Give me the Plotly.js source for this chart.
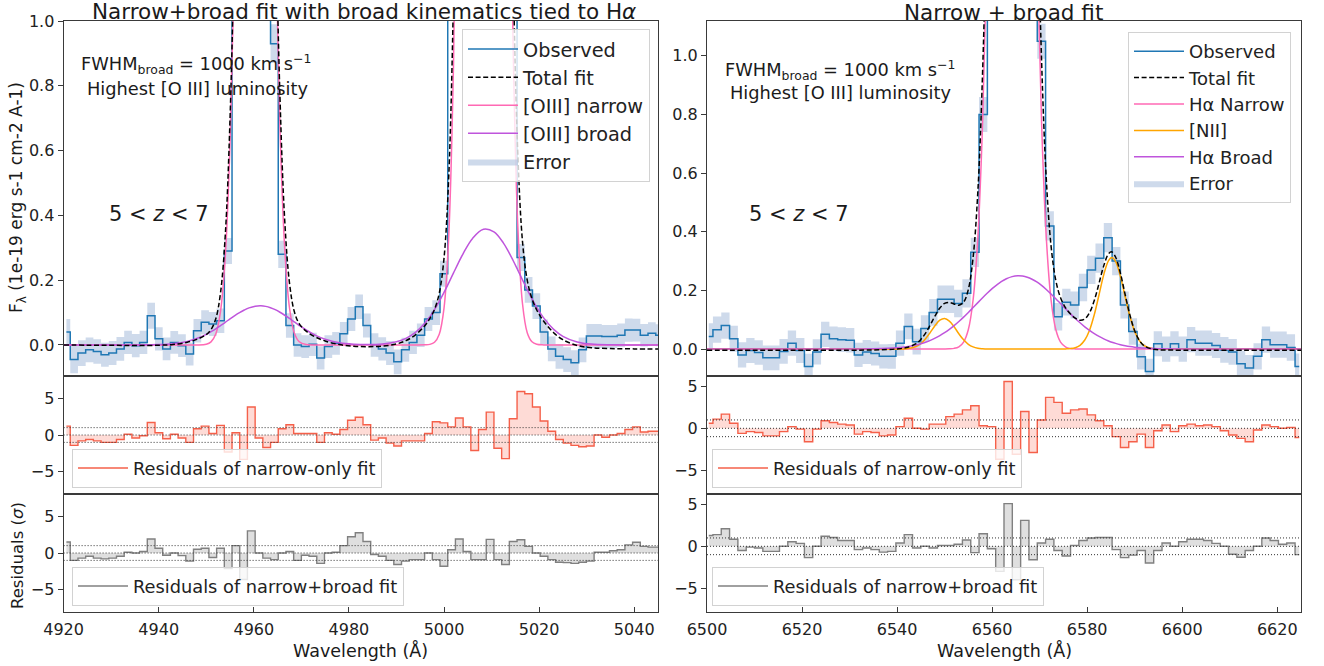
<!DOCTYPE html>
<html><head><meta charset="utf-8">
<script src="https://cdn.plot.ly/plotly-3.0.1.min.js"></script>
<style>html,body{margin:0;padding:0;background:#fff;}#chart{width:1324px;height:666px;}</style>
</head><body><div id="chart"></div>
<script>
// ---------------- LEFT PANEL DATA ([OIII]) ----------------
const lamL = [4920.59,4922.21,4923.83,4925.45,4927.07,4928.69,4930.31,4931.93,4933.55,4935.17,
4936.79,4938.41,4940.03,4941.65,4943.27,4944.89,4946.51,4948.13,4949.75,4951.37,
4952.99,4954.61,4956.23,4957.85,4959.47,4961.09,4962.71,4964.33,4965.95,4967.57,
4969.19,4970.81,4972.43,4974.05,4975.67,4977.29,4978.91,4980.53,4982.15,4983.77,
4985.39,4987.01,4988.63,4990.25,4991.87,4993.49,4995.11,4996.73,4998.35,4999.97,
5001.59,5003.21,5004.83,5006.45,5008.07,5009.69,5011.31,5012.93,5014.55,5016.17,
5017.79,5019.41,5021.03,5022.65,5024.27,5025.89,5027.51,5029.13,5030.75,5032.37,
5033.99,5035.61,5037.23,5038.85,5040.47,5042.09,5043.71,5045.33];
const obsL = [0.040,-0.045,-0.025,-0.015,-0.020,-0.030,-0.025,-0.012,0.008,-0.002,
0.008,0.090,0.019,-0.012,0.008,-0.002,-0.028,0.044,0.070,0.065,
0.075,0.290,1.70,3.40,4.20,4.00,2.60,0.930,0.280,0.060,
0.000,-0.005,0.002,-0.040,-0.005,0.005,0.035,0.080,0.118,0.060,
0.000,-0.012,-0.025,-0.052,-0.015,0.008,0.030,0.080,0.100,0.220,
1.30,4.00,8.50,12.0,13.5,11.0,6.50,3.00,1.20,0.270,
0.170,0.120,0.040,-0.012,-0.035,-0.045,-0.055,-0.015,0.028,0.028,
0.026,0.026,0.030,0.046,0.046,0.030,0.036,0.030];
const errL = [0.040,0.042,0.040,0.038,0.038,0.037,0.037,0.037,0.036,0.036,
0.036,0.040,0.036,0.035,0.035,0.035,0.035,0.036,0.037,0.037,
0.038,0.040,0.060,0.090,0.100,0.100,0.080,0.060,0.042,0.038,
0.036,0.035,0.036,0.036,0.035,0.035,0.036,0.037,0.038,0.037,
0.036,0.036,0.037,0.038,0.037,0.036,0.036,0.037,0.038,0.040,
0.070,0.120,0.180,0.200,0.200,0.170,0.120,0.080,0.050,0.042,
0.040,0.040,0.039,0.038,0.038,0.038,0.039,0.038,0.037,0.037,
0.036,0.036,0.036,0.036,0.035,0.035,0.034,0.034];
const resNarrowL = [1.2,-1.4,-0.8,-0.6,-0.8,-1.0,-1.0,-0.6,0.1,-0.4,
-0.1,1.7,0.3,-0.5,0.1,-0.4,-1.0,0.85,1.2,0.2,
1.3,-2.3,0.3,-3.3,3.8,-0.4,-1.7,-1.0,0.85,1.4,
0.2,0.2,0.2,-1.0,0.3,0.1,0.75,2.0,2.4,1.4,
-0.7,-0.4,-1.1,-1.5,-0.8,-0.8,-0.8,0.2,1.8,1.65,
1.1,2.3,1.1,-2.1,0.75,3.1,-1.8,-3.2,2.2,5.9,
5.6,3.8,1.9,0.5,-0.6,-1.1,-1.4,-1.6,-1.5,0.0,
-0.3,0.0,0.2,0.75,1.1,0.4,0.5,0.5];
const resBroadL = [1.5,-1.0,-0.7,-0.45,-0.7,-0.8,-0.7,-0.45,0.1,0.0,
0.2,1.9,0.65,-0.3,0.0,-0.35,-1.1,0.5,0.65,-0.6,
0.65,-2.1,1.0,-3.6,3.0,0.0,-0.7,-0.9,0.0,0.2,
-1.0,-0.3,-0.45,-1.4,0.0,0.1,1.0,2.2,2.75,1.55,
-0.2,-0.45,-1.0,-1.55,-1.1,-0.9,-0.9,0.0,-0.9,-1.8,
0.45,1.9,0.2,-0.9,-0.9,1.85,-0.9,-1.55,1.55,1.8,
0.9,0.0,-0.45,-0.9,-1.25,-1.3,-1.4,-1.25,-1.1,0.1,
0.1,0.3,0.45,1.1,1.45,0.9,0.8,0.8];
// model curves, sampled
const fitLamL = [4920,4925,4930,4935,4940,4943,4946,4948,
4950,4951,4952,4953,4954,4955,4956,4957,4958,4959,
4960.3,4961.5,4962.5,4963.5,4964.5,4965.5,4966.5,4967.5,4968.5,4969.5,
4971,4973,4975,4978,4981,4984,4987,4990,4992,4994,
4996,4997,4998,4999,5000,5001,5002,5003,5004,5006,
5008.3,5010.5,5012.5,5013.5,5014.5,5015.5,5016.5,5017.5,5018.5,5019.5,
5021,5023,5025,5028,5031,5035,5040,5045];
const oiiiNarrow = [0,0,0,0,0,0,0,0.0001,
0.0024,0.0097,0.034,0.104,0.273,0.623,1.23,2.12,3.16,4.08,
4.6,4.15,3.26,2.22,1.31,0.67,0.298,0.115,0.038,0.011,
0.0013,0,0,0,0,0,0,0,0,0,
0.0004,0.0019,0.0085,0.0335,0.114,0.338,0.87,1.95,3.81,9.55,
13.8,9.85,4.04,2.10,0.95,0.373,0.128,0.038,0.0098,0.0022,
0.0003,0,0,0,0,0,0,0];
const oiiiBroad = [0,0,0,0.0001,0.0012,0.004,0.0111,0.0199,
0.0329,0.041,0.050,0.060,0.070,0.0807,0.0908,0.100,0.108,0.1146,
0.1198,0.121,0.1192,0.1152,0.109,0.101,0.0918,0.0818,0.0713,0.0609,
0.0463,0.0298,0.0178,0.007,0.0025,0.0013,0.003,0.0101,0.0206,0.0389,
0.0678,0.0869,0.1091,0.1344,0.1622,0.1918,0.2224,0.2528,0.2816,0.329,
0.357,0.349,0.3145,0.2897,0.2616,0.2316,0.2009,0.1709,0.1424,0.1164,
0.0828,0.049,0.0268,0.0093,0.0027,0.0004,0,0];
const oiiiTotal = [0.0,-0.0005,-0.001,-0.0014,-0.0008,0.0017,0.0085,0.0172,
0.0323,0.0476,0.0808,0.161,0.3393,0.699,1.315,2.22,3.26,4.19,
4.72,4.27,3.38,2.33,1.41,0.767,0.385,0.192,0.104,0.067,
0.0427,0.0245,0.0123,0.0012,-0.0036,-0.0051,-0.0037,0.0031,0.0134,0.0315,
0.0602,0.0811,0.1098,0.160,0.268,0.522,1.084,2.19,4.08,9.87,
14.15,10.19,4.35,2.38,1.20,0.599,0.32,0.20,0.143,0.108,
0.0727,0.0387,0.0163,-0.0015,-0.0084,-0.0111,-0.012,-0.0125];

// ---------------- RIGHT PANEL DATA (Halpha) ----------------
const lamR = [6500.375,6502.125,6503.875,6505.625,6507.375,6509.125,6510.875,6512.625,6514.375,6516.125,
6517.875,6519.625,6521.375,6523.125,6524.875,6526.625,6528.375,6530.125,6531.875,6533.625,
6535.375,6537.125,6538.875,6540.625,6542.375,6544.125,6545.875,6547.625,6549.375,6551.125,
6552.875,6554.625,6556.375,6558.125,6559.875,6561.625,6563.375,6565.125,6566.875,6568.625,
6570.375,6572.125,6573.875,6575.625,6577.375,6579.125,6580.875,6582.625,6584.375,6586.125,
6587.875,6589.625,6591.375,6593.125,6594.875,6596.625,6598.375,6600.125,6601.875,6603.625,
6605.375,6607.125,6608.875,6610.625,6612.375,6614.125,6615.875,6617.625,6619.375,6621.125,
6622.875,6624.625];
const obsR = [0.043,0.066,0.080,0.035,-0.020,-0.005,-0.012,-0.030,-0.030,-0.008,
0.020,-0.005,-0.060,-0.010,0.050,0.035,0.032,0.030,-0.020,-0.010,
-0.015,-0.025,-0.025,0.020,0.077,0.025,0.070,0.125,0.170,0.170,
0.155,0.190,0.330,0.800,2.00,4.00,5.60,5.40,3.80,2.00,
1.05,0.420,0.110,0.160,0.150,0.210,0.270,0.310,0.380,0.300,
0.150,0.060,-0.026,-0.077,0.018,0.000,0.018,0.000,0.032,0.020,
0.020,0.012,-0.003,-0.010,-0.050,-0.065,-0.025,0.032,0.015,0.015,
0.005,-0.060];
const errR = [0.045,0.045,0.045,0.044,0.043,0.043,0.042,0.042,0.042,0.042,
0.043,0.043,0.044,0.043,0.043,0.042,0.042,0.042,0.041,0.041,
0.041,0.041,0.042,0.043,0.044,0.044,0.045,0.046,0.047,0.047,
0.047,0.048,0.050,0.060,0.100,0.150,0.200,0.200,0.150,0.100,
0.060,0.050,0.047,0.046,0.046,0.047,0.048,0.050,0.050,0.048,
0.046,0.045,0.044,0.044,0.043,0.043,0.043,0.043,0.043,0.043,
0.043,0.043,0.044,0.044,0.044,0.045,0.045,0.045,0.045,0.045,
0.045,0.045];
const resNarrowR = [0.6,1.1,1.7,0.6,-0.6,-0.4,-0.5,-0.9,-0.9,-0.4,
0.2,-0.1,-1.6,-0.1,0.9,0.7,0.5,0.4,-0.7,-0.4,
-0.5,-0.9,-0.8,0.2,1.2,0.0,-0.1,0.5,0.5,1.4,
1.7,2.2,2.7,0.3,0.2,-3.7,5.6,-3.1,2.0,-2.9,
1.0,3.7,3.1,1.8,2.2,2.3,1.6,0.9,0.3,-1.0,
-2.3,-1.6,-0.7,-2.3,-0.3,0.4,-0.4,0.3,0.5,0.3,
0.4,0.2,-0.3,-0.8,-1.2,-1.6,-0.2,0.4,0.2,0.0,
0.1,-1.1];
const resBroadR = [1.3,1.4,2.1,0.85,-0.5,-0.1,-0.2,-0.6,-0.6,0.0,
0.55,0.35,-1.35,0.0,1.2,1.05,0.7,0.7,-0.4,-0.2,
-0.4,-0.7,-0.6,0.4,1.4,-0.2,0.0,-0.2,0.1,0.1,
0.25,0.75,-0.75,1.5,-0.3,-3.0,5.1,-4.0,3.1,-1.6,
0.4,0.85,-0.5,-1.15,0.1,0.7,1.0,1.05,1.05,-0.4,
-1.35,-1.05,-0.5,-2.0,-0.5,0.4,0.0,0.55,0.85,0.85,
0.7,0.35,0.0,-0.95,-1.3,-0.5,0.0,1.0,0.7,0.25,
0.4,-1.0];
const fitLamR = [6500,6510,6520,6530,6535,6538,6540,6542,6544,6545,
6546,6547,6548,6549,6550,6551,6552,6553,6554,6555,
6556,6557,6558,6559,6560,6561,6562,6563,6564.2,6565.4,
6566.4,6567.4,6568.4,6569.4,6570.4,6571.4,6572.4,6573.4,6574.4,6575.5,
6576.5,6577.5,6578.5,6579.5,6580.5,6581.5,6582.5,6583.5,6584.5,6585.2,
6586,6587,6588,6589,6590,6591,6592,6594,6596,6600,
6610,6625];
const haNarrow = [0,0,0,0,0,0,0,0,0,0,
0,0,0,0,0.0001,0.0006,0.0022,0.0076,0.0238,0.0666,
0.168,0.381,0.776,1.42,2.35,3.48,4.64,5.56,6.0,5.56,
4.64,3.48,2.35,1.42,0.776,0.381,0.168,0.0666,0.0238,0.0067,
0.0019,0.0005,0,0,0,0,0,0,0,0,
0,0,0,0,0,0,0,0,0,0,
0,0];
const niiLines = [0,0,0,0,0,0,0.0001,0.0012,0.0086,0.0187,
0.0351,0.057,0.0804,0.0982,0.104,0.0954,0.0759,0.052,0.0313,0.0162,
0.0073,0.0028,0.001,0,0,0,0,0,0,0,
0,0,0,0,0,0,0,0,0,0.0004,
0.0014,0.0045,0.0126,0.0307,0.0644,0.1173,0.1853,0.2539,0.3013,0.312,
0.298,0.2476,0.1782,0.1113,0.0602,0.0282,0.0115,0.0012,0.0001,0,
0,0];
const haBroad = [0,0,0,0.0001,0.0008,0.0023,0.0044,0.008,0.014,0.0182,
0.0233,0.0295,0.037,0.0456,0.0557,0.067,0.0798,0.0938,0.1089,0.1249,
0.1415,0.1583,0.175,0.191,0.206,0.219,0.2308,0.2398,0.247,0.25,
0.249,0.245,0.238,0.2287,0.2169,0.2031,0.1879,0.1717,0.155,0.1365,
0.12,0.1042,0.0895,0.0758,0.0635,0.0525,0.0429,0.0346,0.0276,0.0233,
0.0192,0.0148,0.0113,0.0085,0.0063,0.0047,0.0034,0.0017,0.0008,0.0001,
0,0];
const haTotal = [-0.004,-0.004,-0.004,-0.0039,-0.0032,-0.0017,0.0005,0.0052,0.0186,0.0329,
0.0544,0.0825,0.1134,0.1398,0.1558,0.159,0.1539,0.1494,0.16,0.2037,
0.3128,0.5381,0.948,1.607,2.552,3.695,4.867,5.796,6.243,5.806,
4.885,3.721,2.584,1.645,0.989,0.580,0.352,0.234,0.1748,0.1396,
0.1193,0.1052,0.0981,0.1025,0.1239,0.1658,0.2242,0.2845,0.3249,0.3313,
0.3132,0.2584,0.1855,0.1158,0.0625,0.0289,0.0109,-0.0011,-0.0031,-0.0039,
-0.004,-0.004];

// tick labels / reference levels
const fluxTicks = [0, 0.2, 0.4, 0.6, 0.8, 1.0];
const fluxTickText = ['0.0','0.2','0.4','0.6','0.8','1.0'];
const resTicks = [-5, 0, 5];
const resTickText = ['\u22125','0','5'];
const lamTicksL = [4920,4940,4960,4980,5000,5020,5040];
const lamTicksR = [6500,6520,6540,6560,6580,6600,6620];
const sigmaLevels = [-1, 0, 1];

// ---------------- STYLE ----------------
const FONT = 'DejaVu Sans, Verdana, sans-serif';
const W = 1324, H = 666;
const fx = p => p / W, fy = p => 1 - p / H;
const C_OBS = '#1f77b4', C_ERR = 'rgba(176,196,222,0.62)', C_NAR = '#ff69b4',
      C_BRD = '#bf55dc', C_NII = '#ffa500', C_RED = '#f5604a', C_REDF = 'rgba(250,110,90,0.25)',
      C_GRY = '#808080', C_GRYF = 'rgba(150,150,150,0.3)';
const DASH = '5px,2.6px';

function bandTraces(x, y, e, xa, ya, leg) {
  const lo = y.map((v, i) => v - e[i]);
  const hi = y.map((v, i) => v + e[i]);
  return [
    {x: x, y: lo, xaxis: xa, yaxis: ya, mode: 'lines', line: {width: 0, shape: 'hvh'},
     showlegend: false, hoverinfo: 'skip'},
    {x: x, y: hi, xaxis: xa, yaxis: ya, mode: 'lines', line: {width: 0, shape: 'hvh'},
     fill: 'tonexty', fillcolor: C_ERR, name: 'Error', legend: leg, legendrank: 10, hoverinfo: 'skip'}
  ];
}
function lineTrace(x, y, xa, ya, color, name, leg, rank, opts) {
  opts = opts || {};
  return {x: x, y: y, xaxis: xa, yaxis: ya, mode: 'lines', name: name, legend: leg, legendrank: rank,
    showlegend: !!name, hoverinfo: 'skip',
    line: Object.assign({color: color, width: 1.5}, opts)};
}
function residTraces(x, r, xa, ya, col, fcol, name, leg) {
  return [
    {x: x, y: r, xaxis: xa, yaxis: ya, mode: 'lines', line: {width: 0, shape: 'hvh'},
     fill: 'tozeroy', fillcolor: fcol, showlegend: false, hoverinfo: 'skip'},
    {x: x, y: r, xaxis: xa, yaxis: ya, mode: 'lines', line: {color: col, width: 1.4, shape: 'hvh'},
     name: name, legend: leg, hoverinfo: 'skip'}
  ];
}

const traces = [].concat(
  bandTraces(lamL, obsL, errL, 'x', 'y', 'legend'),
  [lineTrace(lamL, obsL, 'x', 'y', C_OBS, 'Observed', 'legend', 1, {shape: 'hvh'}),
   lineTrace(fitLamL, oiiiNarrow, 'x', 'y', C_NAR, '[OIII] narrow', 'legend', 3, {shape: 'spline'}),
   lineTrace(fitLamL, oiiiBroad, 'x', 'y', C_BRD, '[OIII] broad', 'legend', 4, {shape: 'spline'}),
   lineTrace(fitLamL, oiiiTotal, 'x', 'y', '#000000', 'Total fit', 'legend', 2, {shape: 'spline', dash: DASH})],
  residTraces(lamL, resNarrowL, 'x2', 'y2', C_RED, C_REDF, 'Residuals of narrow-only fit', 'legend2'),
  residTraces(lamL, resBroadL, 'x3', 'y3', C_GRY, C_GRYF, 'Residuals of narrow+broad fit', 'legend3'),
  bandTraces(lamR, obsR, errR, 'x4', 'y4', 'legend4'),
  [lineTrace(lamR, obsR, 'x4', 'y4', C_OBS, 'Observed', 'legend4', 1, {shape: 'hvh'}),
   lineTrace(fitLamR, haNarrow, 'x4', 'y4', C_NAR, 'H\u03b1 Narrow', 'legend4', 3, {shape: 'spline'}),
   lineTrace(fitLamR, niiLines, 'x4', 'y4', C_NII, '[NII]', 'legend4', 4, {shape: 'spline'}),
   lineTrace(fitLamR, haBroad, 'x4', 'y4', C_BRD, 'H\u03b1 Broad', 'legend4', 5, {shape: 'spline'}),
   lineTrace(fitLamR, haTotal, 'x4', 'y4', '#000000', 'Total fit', 'legend4', 2, {shape: 'spline', dash: DASH})],
  residTraces(lamR, resNarrowR, 'x5', 'y5', C_RED, C_REDF, 'Residuals of narrow-only fit', 'legend5'),
  residTraces(lamR, resBroadR, 'x6', 'y6', C_GRY, C_GRYF, 'Residuals of narrow+broad fit', 'legend6')
);

const LX = [fx(63.6), fx(658)], RX = [fx(707), fx(1301)];
const YT = [fy(376), fy(21)], Y1 = [fy(494), fy(376)], Y2 = [fy(612), fy(494)];
const frame = {showline: true, mirror: true, linecolor: '#3a3a3a', linewidth: 1, showgrid: false, zeroline: false,
  tickfont: {family: FONT, size: 16, color: '#222'}, tickcolor: '#3a3a3a'};
function xax(dom, anchor, range, tickvals) {
  const a = Object.assign({}, frame, {domain: dom, anchor: anchor, range: range});
  if (tickvals) Object.assign(a, {tickvals: tickvals, ticks: 'inside', ticklen: 5, ticklabelstandoff: 3});
  else Object.assign(a, {showticklabels: false, ticks: ''});
  return a;
}
function yax(dom, anchor, range, tv, tt) {
  return Object.assign({}, frame, {domain: dom, anchor: anchor, range: range, tickvals: tv, ticktext: tt,
    ticks: 'outside', ticklen: 5});
}
const legBase = {bgcolor: 'rgba(255,255,255,0.8)', bordercolor: '#d2d2d2', borderwidth: 1, itemwidth: 50,
  traceorder: 'normal'};
const legFont = s => ({family: FONT, size: s, color: '#222'});

const shapes = [];
[['x2','y2'],['x3','y3'],['x5','y5'],['x6','y6']].forEach(([xa, ya]) => {
  sigmaLevels.forEach(lv => shapes.push({type: 'line', xref: xa + ' domain', yref: ya, x0: 0, x1: 1, y0: lv, y1: lv,
    line: {color: '#333', width: 1, dash: '1px,2px'}, layer: 'above'}));
});

const ann = (text, xp, yp, size, extra) => Object.assign({text: text, x: fx(xp), y: fy(yp), xref: 'paper', yref: 'paper',
  showarrow: false, xanchor: 'center', yanchor: 'middle', font: {family: FONT, size: size, color: '#1a1a1a'}}, extra || {});
const annotations = [
  ann('Narrow+broad fit with broad kinematics tied to H<i>\u03b1</i>', 364, 11, 21.5),
  ann('Narrow + broad fit', 1003, 13, 21.5),
  ann('FWHM<sub>broad</sub> = 1000 km s<sup>\u22121</sup>', 196, 64, 17.8),
  ann('Highest [O III] luminosity', 197, 88, 17.8),
  ann('FWHM<sub>broad</sub> = 1000 km s<sup>\u22121</sup>', 840, 70, 17.8),
  ann('Highest [O III] luminosity', 840, 92, 17.8),
  ann('5 &lt; <i>z</i> &lt; 7', 159, 214, 21),
  ann('5 &lt; <i>z</i> &lt; 7', 799, 214, 21),
  ann('Wavelength (\u00c5)', 361, 650, 17.5),
  ann('Wavelength (\u00c5)', 1004, 650, 17.5),
  ann('F<sub>\u03bb</sub> (1e-19 erg s-1 cm-2 A-1)', 17, 198, 17, {textangle: -90}),
  ann('Residuals (<i>\u03c3</i>)', 17, 556, 16.5, {textangle: -90})
];

const layout = {
  width: W, height: H, margin: {l: 0, r: 0, t: 0, b: 0, pad: 0},
  paper_bgcolor: '#ffffff', plot_bgcolor: '#ffffff', hovermode: false,
  font: {family: FONT, color: '#222'},
  xaxis: xax(LX, 'y', [4920, 5045]),
  yaxis: yax(YT, 'x', [-0.0957, 1.0], fluxTicks, fluxTickText),
  xaxis2: xax(LX, 'y2', [4920, 5045]),
  yaxis2: yax(Y1, 'x2', [-8, 8], resTicks, resTickText),
  xaxis3: xax(LX, 'y3', [4920, 5045], lamTicksL),
  yaxis3: yax(Y2, 'x3', [-8, 8], resTicks, resTickText),
  xaxis4: xax(RX, 'y4', [6500, 6625]),
  yaxis4: yax(YT, 'x4', [-0.092, 1.119], fluxTicks, fluxTickText),
  xaxis5: xax(RX, 'y5', [6500, 6625]),
  yaxis5: yax(Y1, 'x5', [-7.85, 6.25], resTicks, resTickText),
  xaxis6: xax(RX, 'y6', [6500, 6625], lamTicksR),
  yaxis6: yax(Y2, 'x6', [-7.85, 6.25], resTicks, resTickText),
  legend: Object.assign({}, legBase, {x: fx(650), xanchor: 'right', y: fy(29), yanchor: 'top', font: legFont(19.3)}),
  legend2: Object.assign({}, legBase, {x: fx(72), xanchor: 'left', y: fy(488), yanchor: 'bottom', font: legFont(17.8)}),
  legend3: Object.assign({}, legBase, {x: fx(72), xanchor: 'left', y: fy(606), yanchor: 'bottom', font: legFont(17.8)}),
  legend4: Object.assign({}, legBase, {x: fx(1291), xanchor: 'right', y: fy(32), yanchor: 'top', font: legFont(18)}),
  legend5: Object.assign({}, legBase, {x: fx(712), xanchor: 'left', y: fy(488), yanchor: 'bottom', font: legFont(17.8)}),
  legend6: Object.assign({}, legBase, {x: fx(712), xanchor: 'left', y: fy(606), yanchor: 'bottom', font: legFont(17.8)}),
  shapes: shapes,
  annotations: annotations
};

Plotly.newPlot('chart', traces, layout, {staticPlot: true, displayModeBar: false});
</script>
</body></html>
